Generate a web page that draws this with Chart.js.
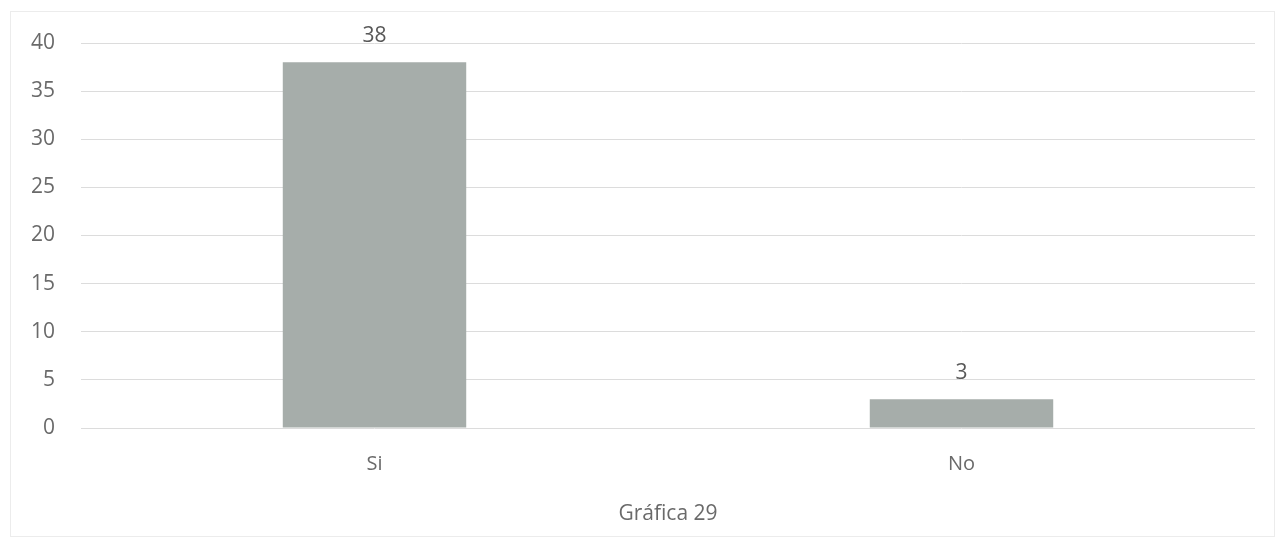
<!DOCTYPE html>
<html>
<head>
<meta charset="utf-8">
<script src="https://cdn.jsdelivr.net/npm/chart.js@4/dist/chart.umd.min.js"></script>
<style>
  html, body { margin: 0; padding: 0; background: #ffffff; }
  #wrap { position: relative; width: 1285px; height: 539px; }
  #frame { position: absolute; left: 10px; top: 11px; width: 1265px; height: 526px; border: 1px solid #ececec; box-sizing: border-box; pointer-events: none; }
  canvas { display: block; }
</style>
</head>
<body>
<div id="wrap">
  <canvas id="c" width="1285" height="539"></canvas>
  <div id="frame"></div>
</div>
<script>
const categories = ["Si", "No"];
const values = [38, 3];
const yTicks = [0, 5, 10, 15, 20, 25, 30, 35, 40];
const xTitle = "Gráfica 29";

const FONT = "'Open Sans', 'DejaVu Sans', sans-serif";
const TEXT = "#6a6a6a";

const valueLabels = {
  id: "valueLabels",
  afterDatasetsDraw(chart) {
    const ctx = chart.ctx;
    const meta = chart.getDatasetMeta(0);
    ctx.save();
    ctx.font = "21px " + FONT;
    ctx.fillStyle = "#585858";
    ctx.textAlign = "center";
    ctx.textBaseline = "middle";
    meta.data.forEach((bar, i) => {
      ctx.fillText(String(values[i]), bar.x, bar.y - 26);
    });
    ctx.restore();
  }
};

new Chart(document.getElementById("c"), {
  type: "bar",
  data: {
    labels: categories,
    datasets: [{
      data: values,
      backgroundColor: "#a6adaa",
      borderWidth: 0,
      barPercentage: 0.625,
      categoryPercentage: 0.5
    }]
  },
  options: {
    responsive: false,
    animation: false,
    layout: { padding: { top: 43, right: 30, bottom: 0, left: 0 } },
    plugins: { legend: { display: false }, tooltip: { enabled: false } },
    scales: {
      x: {
        grid: { display: false },
        border: { display: false },
        ticks: { color: TEXT, font: { family: FONT, size: 20 }, padding: 16 },
        title: { display: true, text: xTitle, color: TEXT, font: { family: FONT, size: 21 }, padding: { top: 10, bottom: 12 } },
        afterFit(s) { s.height = 111; }
      },
      y: {
        min: 0, max: 40,
        afterBuildTicks(s) { s.ticks = yTicks.map(v => ({ value: v })); },
        grid: { color: "#dcdcdc", lineWidth: 1, drawTicks: false },
        border: { display: false },
        ticks: { color: TEXT, font: { family: FONT, size: 21 }, padding: 26 },
        afterFit(s) { s.width = 81; }
      }
    }
  },
  plugins: [valueLabels]
});
</script>
</body>
</html>
